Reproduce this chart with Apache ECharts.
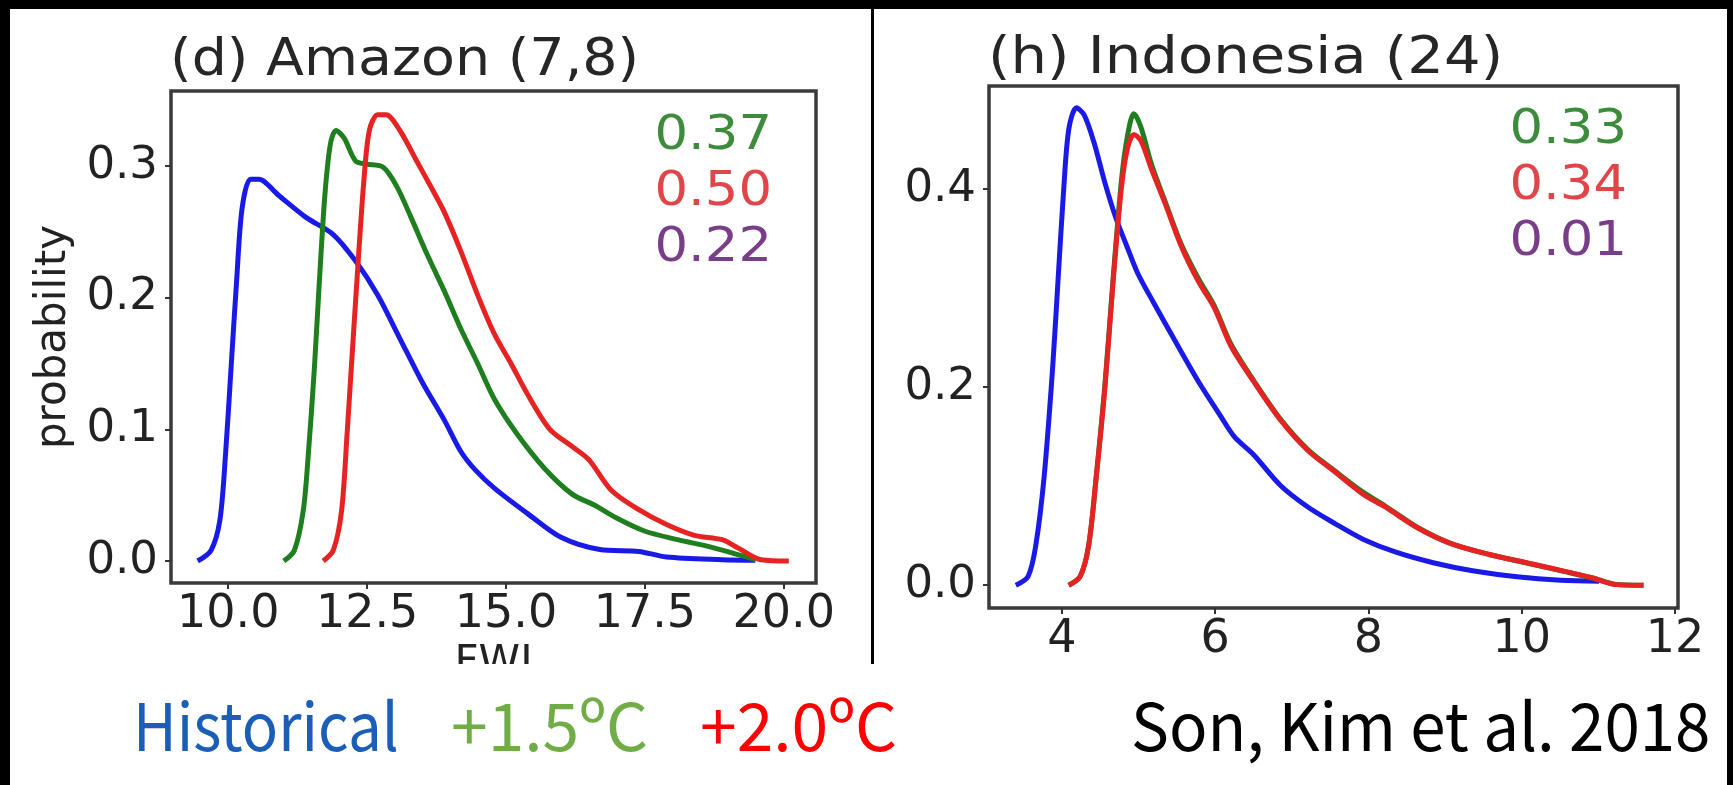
<!DOCTYPE html>
<html>
<head>
<meta charset="utf-8">
<script src="https://cdn.jsdelivr.net/npm/echarts@6/dist/echarts.min.js"></script>
<style>
html, body { margin: 0; padding: 0; background: #fff; }
#chart { width: 1733px; height: 785px; }
</style>
</head>
<body>
<div id="chart"></div>
<script>
// (d) Amazon (7,8) - FWI probability curves [FWI, probability]
const amazonHist = [[9.45,0],[9.69,0.008],[9.85,0.031],[9.95,0.08],[10.05,0.146],[10.15,0.212],[10.25,0.268],[10.4,0.29],[10.55,0.29],[10.9,0.278],[11.4,0.261],[11.89,0.248],[12.29,0.228],[12.69,0.202],[13.09,0.169],[13.49,0.136],[13.89,0.107],[14.19,0.083],[14.45,0.069],[14.8,0.055],[15.39,0.036],[15.99,0.018],[16.69,0.0087],[17.39,0.0073],[17.89,0.003],[18.89,0.001],[19.49,0.0005]];
const amazon15 = [[11.0,0],[11.19,0.008],[11.35,0.038],[11.44,0.08],[11.55,0.146],[11.64,0.212],[11.74,0.278],[11.84,0.317],[11.94,0.327],[12.09,0.321],[12.29,0.304],[12.49,0.3015],[12.79,0.299],[13.04,0.284],[13.29,0.261],[13.59,0.232],[13.89,0.205],[14.19,0.176],[14.49,0.15],[14.79,0.123],[15.19,0.097],[15.69,0.0705],[16.19,0.0508],[16.59,0.0425],[16.99,0.0326],[17.49,0.0228],[18.09,0.0162],[18.69,0.0106],[19.19,0.0047],[19.49,0.001]];
const amazon20 = [[11.71,0],[11.89,0.008],[12.04,0.038],[12.14,0.097],[12.24,0.163],[12.34,0.228],[12.44,0.288],[12.54,0.327],[12.69,0.339],[12.84,0.339],[13.09,0.327],[13.39,0.304],[13.69,0.281],[13.89,0.265],[14.19,0.235],[14.49,0.202],[14.79,0.1725],[15.09,0.15],[15.39,0.1265],[15.79,0.1],[16.19,0.087],[16.49,0.077],[16.89,0.054],[17.39,0.039],[17.89,0.0277],[18.39,0.0195],[18.89,0.0162],[19.19,0.0096],[19.59,0.001],[20.09,0]];
const amazonRatios = ['0.37', '0.50', '0.22'];

// (h) Indonesia (24)
const indoHist = [[3.4,0],[3.56,0.009],[3.66,0.04],[3.77,0.11],[3.88,0.219],[3.95,0.307],[4.02,0.394],[4.09,0.46],[4.19,0.482],[4.29,0.475],[4.42,0.447],[4.56,0.407],[4.7,0.372],[4.85,0.342],[4.99,0.315],[5.2,0.285],[5.49,0.245],[5.78,0.206],[6.07,0.171],[6.25,0.15],[6.5,0.132],[6.85,0.101],[7.21,0.079],[7.57,0.062],[7.93,0.0465],[8.36,0.0333],[8.86,0.0224],[9.36,0.0146],[9.94,0.0085],[10.51,0.005],[11.01,0.004]];
const indo15 = [[4.09,0],[4.24,0.009],[4.35,0.04],[4.45,0.11],[4.56,0.2],[4.67,0.31],[4.78,0.41],[4.86,0.455],[4.94,0.476],[5.03,0.463],[5.17,0.425],[5.35,0.387],[5.56,0.344],[5.78,0.31],[5.99,0.282],[6.21,0.243],[6.5,0.207],[6.85,0.168],[7.21,0.137],[7.57,0.115],[7.93,0.094],[8.22,0.08],[8.65,0.058],[9.08,0.042],[9.58,0.031],[10.08,0.0222],[10.58,0.0135],[10.94,0.007],[11.23,0.0008],[11.59,0]];
const indo20 = [[4.09,0],[4.24,0.009],[4.35,0.04],[4.45,0.11],[4.56,0.197],[4.67,0.307],[4.78,0.403],[4.86,0.442],[4.94,0.455],[5.03,0.449],[5.17,0.42],[5.35,0.385],[5.56,0.342],[5.78,0.307],[5.99,0.28],[6.21,0.241],[6.5,0.206],[6.85,0.167],[7.21,0.136],[7.57,0.114],[7.93,0.092],[8.22,0.079],[8.65,0.0575],[9.08,0.042],[9.58,0.031],[10.08,0.0224],[10.58,0.0137],[10.94,0.007],[11.23,0.0006],[11.59,0]];
const indoRatios = ['0.33', '0.34', '0.01'];

// ticks
const amazonXTicks = [10, 12.5, 15, 17.5, 20];
const amazonYTicks = [0, 0.1, 0.2, 0.3];
const indoXTicks = [4, 6, 8, 10, 12];
const indoYTicks = [0, 0.2, 0.4];

const seriesNames = ['Historical', '+1.5ºC', '+2.0ºC'];
const lineColors = ['#1a1ae6', '#1f7f1f', '#e62222'];
const ratioColors = ['#3c8c3c', '#e0454a', '#7a3d8a'];
const legendColors = ['#1b5eb8', '#70ad47', '#ff0000'];

const tickFont = 'DejaVu Sans';

function xAxisOf(gridIndex, min, max, ticks, fmt, name) {
    return {
        type: 'value', gridIndex: gridIndex, min: min, max: max,
        axisLine: { show: false, onZero: false },
        axisTick: { show: true, customValues: ticks, length: 6, lineStyle: { color: '#333', width: 2 } },
        axisLabel: { customValues: ticks, formatter: fmt, fontSize: 46, color: '#222', fontFamily: tickFont, margin: 9 },
        splitLine: { show: false },
        name: name || '', nameLocation: 'middle', nameGap: 46,
        nameTextStyle: { fontSize: 42, color: '#222', fontFamily: tickFont }
    };
}

function yAxisOf(gridIndex, min, max, ticks, name) {
    return {
        type: 'value', gridIndex: gridIndex, min: min, max: max,
        axisLine: { show: false, onZero: false },
        axisTick: { show: true, customValues: ticks, length: 6, lineStyle: { color: '#333', width: 2 } },
        axisLabel: { customValues: ticks, formatter: (v) => v.toFixed(1), fontSize: 45, color: '#222', fontFamily: tickFont, margin: 13 },
        splitLine: { show: false },
        name: name || '', nameLocation: 'middle', nameGap: 96,
        nameTextStyle: { fontSize: 42, color: '#222', fontFamily: tickFont }
    };
}

function curve(name, data, color, idx) {
    return {
        name: name, type: 'line', data: data, xAxisIndex: idx, yAxisIndex: idx,
        showSymbol: false, smooth: 0.3,
        lineStyle: { color: color, width: 5 }, silent: true
    };
}

function ratioTexts(list, right, top) {
    return list.map((t, i) => ({
        type: 'text', x: right, y: top + i * 56, z: 50, scaleX: 1.1,
        style: { text: t, fill: ratioColors[i], font: '48px "DejaVu Sans"', align: 'right', verticalAlign: 'middle' }
    }));
}

function slideText(text, x, color, scaleX) {
    return {
        type: 'text', x: x, y: 726, z: 95, scaleX: scaleX,
        style: { text: text, fill: color, font: '66px "Noto Sans CJK KR"', verticalAlign: 'middle' }
    };
}

const myChart = echarts.init(document.getElementById('chart'));
myChart.setOption({
    backgroundColor: '#ffffff',
    animation: false,
    grid: [
        { left: 171, top: 91, width: 645, height: 492, show: true, borderColor: '#3a3a3a', borderWidth: 3.5, backgroundColor: 'transparent' },
        { left: 989, top: 86, width: 689, height: 522, show: true, borderColor: '#3a3a3a', borderWidth: 3.5, backgroundColor: 'transparent' }
    ],
    xAxis: [
        xAxisOf(0, 8.97, 20.58, amazonXTicks, (v) => v.toFixed(1), 'FWI'),
        xAxisOf(1, 3.05, 12.04, indoXTicks, (v) => String(v))
    ],
    yAxis: [
        yAxisOf(0, -0.0167, 0.357, amazonYTicks, 'probability'),
        yAxisOf(1, -0.023, 0.504, indoYTicks)
    ],
    series: [
        curve(seriesNames[0], amazonHist, lineColors[0], 0),
        curve(seriesNames[1], amazon15, lineColors[1], 0),
        curve(seriesNames[2], amazon20, lineColors[2], 0),
        curve(seriesNames[0], indoHist, lineColors[0], 1),
        curve(seriesNames[1], indo15, lineColors[1], 1),
        curve(seriesNames[2], indo20, lineColors[2], 1)
    ],
    graphic: [
        // panel titles
        { type: 'text', x: 170, y: 62, z: 50, scaleX: 1.087, style: { text: '(d) Amazon (7,8)', fill: '#262626', font: '51px "DejaVu Sans"', verticalAlign: 'middle' } },
        { type: 'text', x: 988, y: 60, z: 50, scaleX: 1.13, style: { text: '(h) Indonesia (24)', fill: '#262626', font: '51px "DejaVu Sans"', verticalAlign: 'middle' } },
        ...ratioTexts(amazonRatios, 772, 137),
        ...ratioTexts(indoRatios, 1627, 131),
        // crop of the figure below the left panel
        { type: 'rect', z: 80, shape: { x: 10, y: 664, width: 862, height: 121 }, style: { fill: '#ffffff' } },
        // slide frame
        { type: 'rect', z: 90, shape: { x: 0, y: 0, width: 1733, height: 9 }, style: { fill: '#000' } },
        { type: 'rect', z: 90, shape: { x: 0, y: 0, width: 10, height: 785 }, style: { fill: '#000' } },
        { type: 'rect', z: 90, shape: { x: 1727, y: 0, width: 6, height: 785 }, style: { fill: '#000' } },
        { type: 'rect', z: 90, shape: { x: 871, y: 9, width: 3, height: 655 }, style: { fill: '#000' } },
        // legend text of the slide
        slideText(seriesNames[0], 133, legendColors[0], 0.91),
        slideText(seriesNames[1], 451, legendColors[1], 1),
        slideText(seriesNames[2], 700, legendColors[2], 1),
        slideText('Son, Kim et al. 2018', 1131, '#000', 0.965)
    ]
});
</script>
</body>
</html>
